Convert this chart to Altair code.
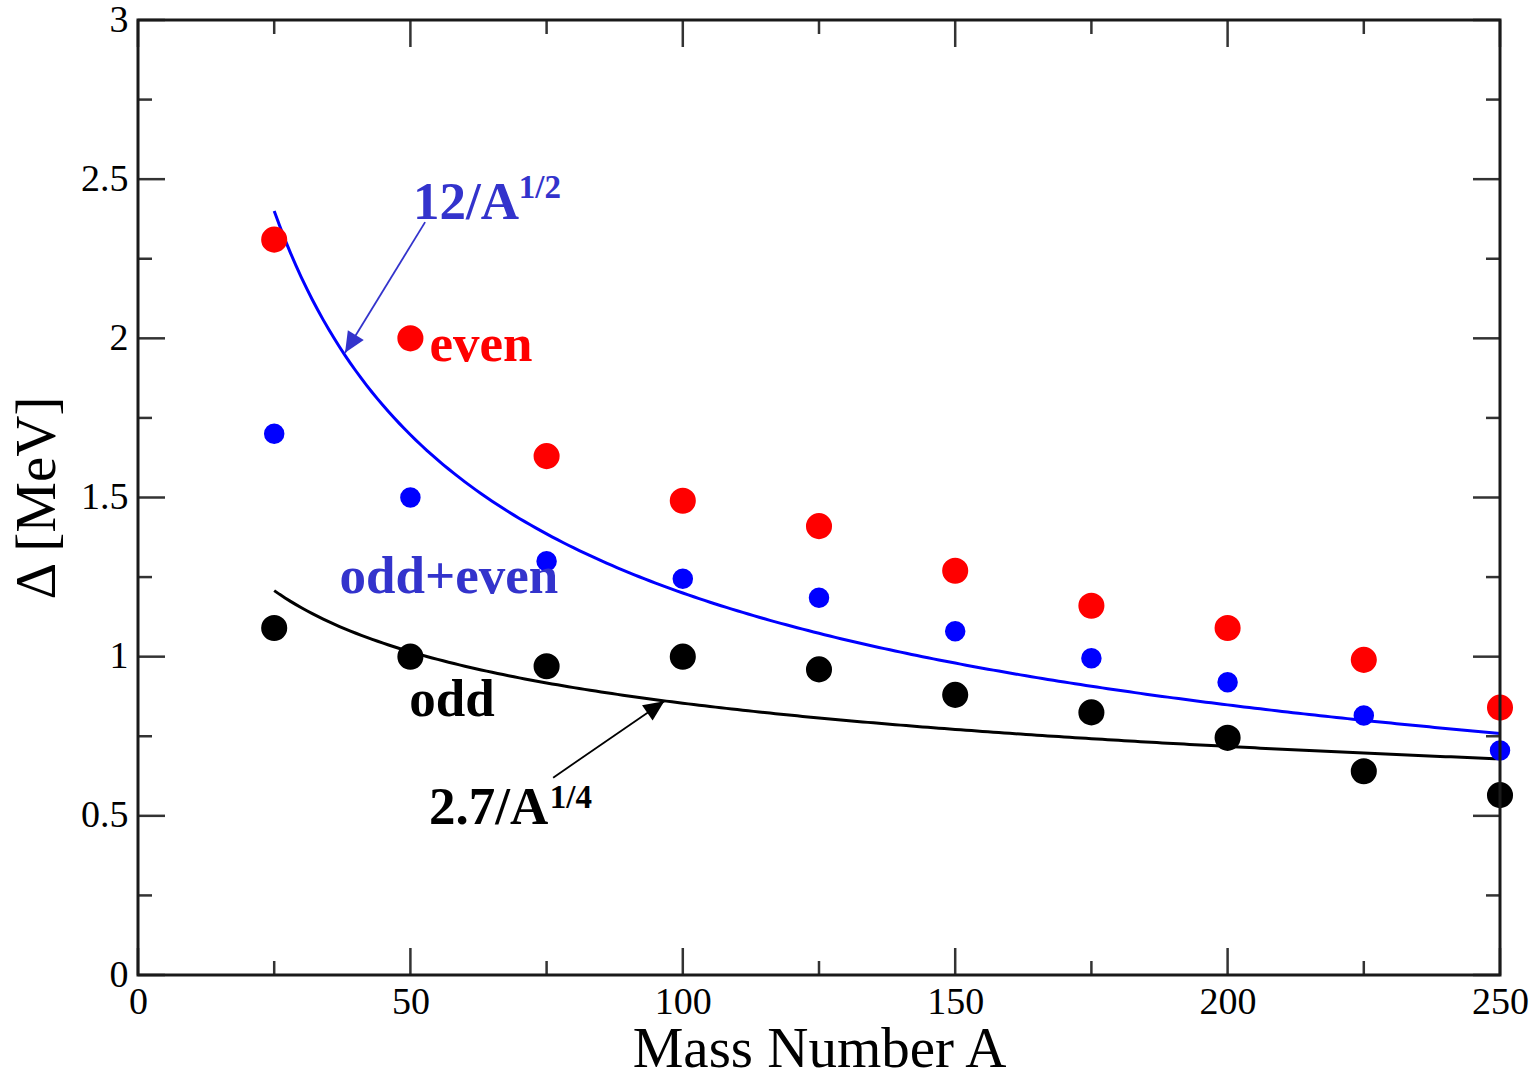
import altair as alt
import numpy as np
import pandas as pd

# Mass numbers and pairing gaps (MeV)
mass_number = [25, 50, 75, 100, 125, 150, 175, 200, 225, 250]
gap_even = [2.31, 2.00, 1.63, 1.49, 1.41, 1.27, 1.16, 1.09, 0.99, 0.84]
gap_all = [1.70, 1.50, 1.30, 1.245, 1.185, 1.08, 0.995, 0.92, 0.815, 0.705]
gap_odd = [1.09, 1.00, 0.97, 1.00, 0.96, 0.88, 0.825, 0.745, 0.64, 0.565]

# Empirical fits: Delta = c / A^p
fit_blue = (12.0, 0.5)
fit_black = (2.7, 0.25)

# Frame ticks
x_major = [0, 50, 100, 150, 200, 250]
x_minor = [25, 75, 125, 175, 225]
y_major = [0, 0.5, 1.0, 1.5, 2.0, 2.5, 3.0]
y_minor = [0.25, 0.75, 1.25, 1.75, 2.25, 2.75]

W, H = 1362, 955
SERIF = "Liberation Serif"
TEXT_BLUE = "#3333cc"

x_scale = alt.Scale(domain=[0, 250], nice=False, zero=False)
y_scale = alt.Scale(domain=[0, 3], nice=False, zero=False)

x_axis = alt.Axis(values=x_major, title="Mass Number A", labelFont=SERIF, labelFontSize=38,
                  titleFont=SERIF, titleFontSize=57, titleFontWeight="normal",
                  ticks=False, domain=False, grid=False, labelPadding=8, titlePadding=0,
                  labelColor="black", titleColor="black", labelFlush=False)
y_axis = alt.Axis(values=y_major, title="Δ [MeV]", labelFont=SERIF, labelFontSize=38,
                  titleFont=SERIF, titleFontSize=57, titleFontWeight="normal",
                  ticks=False, domain=False, grid=False, labelPadding=10, titlePadding=14,
                  labelColor="black", titleColor="black", labelFlush=False,
                  labelExpr="datum.value == 0 ? '0' : format(datum.value, '.2~f')")

points = pd.DataFrame({
    "A": mass_number * 3,
    "gap": gap_even + gap_all + gap_odd,
    "set": ["even"] * 10 + ["all"] * 10 + ["odd"] * 10,
})
point_colors = {"even": "#ff0000", "all": "#0000ff", "odd": "#000000"}
point_sizes = {"even": 680, "all": 420, "odd": 680}

A_fine = np.linspace(25, 250, 226)
curves = pd.DataFrame({
    "A": np.concatenate([A_fine, A_fine]),
    "gap": np.concatenate([fit_blue[0] / A_fine ** fit_blue[1], fit_black[0] / A_fine ** fit_black[1]]),
    "fit": ["blue"] * len(A_fine) + ["black"] * len(A_fine),
})

base_x = alt.X("A:Q", scale=x_scale, axis=x_axis)
base_y = alt.Y("gap:Q", scale=y_scale, axis=y_axis)

curve_layers = []
for name, col in [("blue", "#0000ff"), ("black", "#000000")]:
    curve_layers.append(
        alt.Chart(curves[curves.fit == name]).mark_line(color=col, strokeWidth=3)
        .encode(x=base_x, y=base_y, order="A:Q")
    )

point_layers = []
for name in ["even", "all", "odd"]:
    point_layers.append(
        alt.Chart(points[points.set == name]).mark_circle(
            color=point_colors[name], size=point_sizes[name], opacity=1)
        .encode(x=alt.X("A:Q", scale=x_scale), y=alt.Y("gap:Q", scale=y_scale))
    )

# Inward ticks on all four sides of the frame
def tick_rules(values, axis, length):
    df = pd.DataFrame({"v": values})
    if axis == "x":
        bottom = alt.Chart(df).mark_rule(color="#333333", strokeWidth=2.5).encode(
            x=alt.X("v:Q", scale=x_scale), y=alt.value(H), y2=alt.value(H - length))
        top = alt.Chart(df).mark_rule(color="#333333", strokeWidth=2.5).encode(
            x=alt.X("v:Q", scale=x_scale), y=alt.value(0), y2=alt.value(length))
    else:
        bottom = alt.Chart(df).mark_rule(color="#333333", strokeWidth=2.5).encode(
            y=alt.Y("v:Q", scale=y_scale), x=alt.value(0), x2=alt.value(length))
        top = alt.Chart(df).mark_rule(color="#333333", strokeWidth=2.5).encode(
            y=alt.Y("v:Q", scale=y_scale), x=alt.value(W), x2=alt.value(W - length))
    return [bottom, top]

ticks = (tick_rules(x_major, "x", 27) + tick_rules(x_minor, "x", 14)
         + tick_rules(y_major, "y", 27) + tick_rules(y_minor, "y", 14))

# Plot frame
frame = alt.Chart(pd.DataFrame({"k": [0]})).mark_rect(
    fill=None, stroke="#1a1a1a", strokeWidth=3).encode(
    x=alt.value(0), x2=alt.value(W), y=alt.value(0), y2=alt.value(H))

# Arrows: shaft from label to curve, head drawn as a rotated triangle with its tip at the end
px_per_A = W / 250.0
px_per_gap = H / 3.0

def arrow(x0, y0, x1, y1, color):
    dx = (x1 - x0) * px_per_A
    dy = -(y1 - y0) * px_per_gap
    angle = float(np.degrees(np.arctan2(dx, -dy))) % 360
    shaft = alt.Chart(pd.DataFrame({"x": [x0], "y": [y0], "x2": [x1], "y2": [y1]})).mark_rule(
        color=color, strokeWidth=1.8).encode(
        x=alt.X("x:Q", scale=x_scale), y=alt.Y("y:Q", scale=y_scale), x2="x2:Q", y2="y2:Q")
    head = alt.Chart(pd.DataFrame({"x": [x1], "y": [y1]})).mark_point(
        shape="M0,0 L-0.5,1.1 L0.5,1.1 Z", filled=True, color=color, opacity=1,
        size=1400, angle=angle, strokeWidth=0).encode(
        x=alt.X("x:Q", scale=x_scale), y=alt.Y("y:Q", scale=y_scale))
    return [shaft, head]

arrows = arrow(52.7, 2.365, 38.0, 1.955, TEXT_BLUE) + arrow(76.2, 0.62, 96.6, 0.86, "#000000")

def label(text, x, y, color, size):
    return alt.Chart(pd.DataFrame({"x": [x], "y": [y], "t": [text]})).mark_text(
        font=SERIF, fontWeight="bold", fontSize=size, color=color, align="left",
        baseline="alphabetic").encode(
        x=alt.X("x:Q", scale=x_scale), y=alt.Y("y:Q", scale=y_scale), text="t:N")

labels = [
    label("12/A", 50.5, 2.375, TEXT_BLUE, 53),
    label("1/2", 69.9, 2.44, TEXT_BLUE, 33),
    label("even", 53.5, 1.93, "#ff0000", 53),
    label("odd+even", 37.0, 1.20, TEXT_BLUE, 53),
    label("odd", 49.8, 0.815, "#000000", 53),
    label("2.7/A", 53.4, 0.475, "#000000", 53),
    label("1/4", 75.6, 0.525, "#000000", 33),
]

chart = alt.layer(*curve_layers, *point_layers, *ticks, frame, *arrows, *labels).properties(
    width=W, height=H,
    autosize=alt.AutoSizeParams(type="none"),
    padding={"left": 138, "top": 20, "right": 34, "bottom": 98},
).configure_view(strokeWidth=0).configure(background="white")

chart.save("out.html", embed_options={"renderer": "svg", "actions": False})
